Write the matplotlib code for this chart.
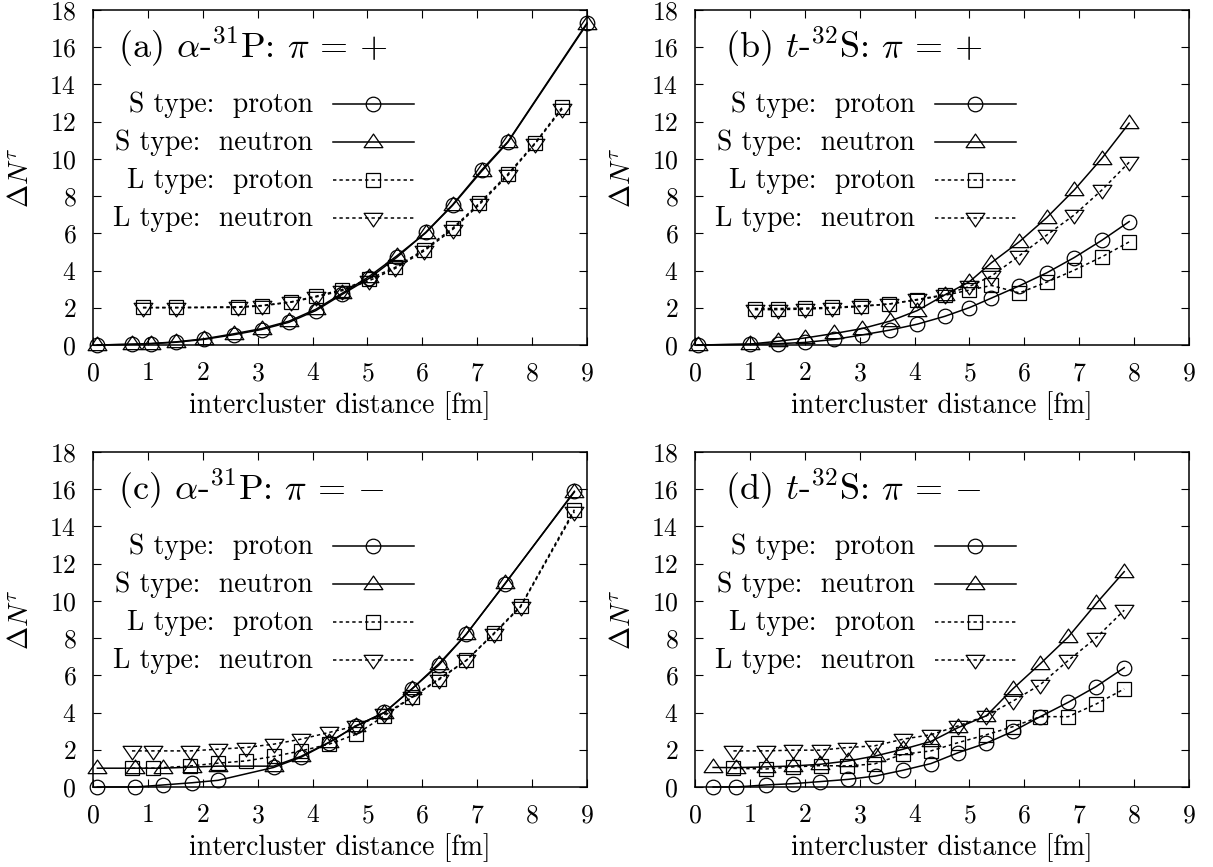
import matplotlib
matplotlib.use("Agg")
import matplotlib.pyplot as plt
from matplotlib.path import Path

plt.rcParams['font.family'] = 'serif'
plt.rcParams['font.serif'] = ['cmr10', 'DejaVu Serif']
plt.rcParams['mathtext.fontset'] = 'cm'
plt.rcParams['axes.formatter.use_mathtext'] = True
plt.rcParams['axes.unicode_minus'] = False

# ---- data ----
# (a) alpha-31P, pi=+
a_xs = [0.08, 0.71, 1.06, 1.52, 2.02, 2.56, 3.07, 3.57, 4.06, 4.54, 5.03, 5.54, 6.06, 6.55, 7.08, 7.56, 9.0]
a_Sp = [0.0, 0.04, 0.07, 0.15, 0.30, 0.55, 0.83, 1.22, 1.85, 2.72, 3.58, 4.72, 6.05, 7.53, 9.40, 10.93, 17.30]
a_Sn = [0.0, 0.04, 0.08, 0.17, 0.33, 0.60, 0.88, 1.28, 1.92, 2.78, 3.68, 4.80, 6.02, 7.50, 9.33, 10.90, 17.25]
a_xl = [0.91, 1.52, 2.64, 3.07, 3.61, 4.06, 4.54, 5.03, 5.51, 6.03, 6.55, 7.04, 7.56, 8.05, 8.55]
a_Lp = [2.02, 2.02, 2.05, 2.12, 2.32, 2.62, 2.98, 3.55, 4.18, 5.12, 6.27, 7.62, 9.19, 10.84, 12.78]
a_Ln = [2.0, 2.0, 2.02, 2.10, 2.30, 2.58, 2.92, 3.45, 4.12, 5.05, 6.20, 7.55, 9.12, 10.80, 12.70]

# (b) t-32S, pi=+
b_xs = [0.05, 1.0, 1.51, 2.01, 2.54, 3.04, 3.55, 4.05, 4.55, 5.0, 5.40, 5.91, 6.41, 6.91, 7.41, 7.91]
b_Sp = [0.0, 0.04, 0.07, 0.14, 0.30, 0.54, 0.80, 1.12, 1.54, 2.01, 2.52, 3.18, 3.88, 4.70, 5.62, 6.63]
b_Sn = [0.0, 0.05, 0.20, 0.38, 0.62, 0.88, 1.28, 1.85, 2.69, 3.40, 4.42, 5.55, 6.85, 8.33, 10.02, 11.92]
b_xl = [1.09, 1.51, 2.01, 2.50, 3.02, 3.53, 4.05, 4.55, 5.0, 5.40, 5.91, 6.41, 6.91, 7.41, 7.91]
b_Lp = [1.96, 1.96, 1.98, 2.02, 2.10, 2.20, 2.42, 2.67, 2.95, 3.20, 2.80, 3.38, 4.02, 4.73, 5.54]
b_Ln = [1.90, 1.90, 1.93, 1.98, 2.07, 2.20, 2.45, 2.70, 3.15, 3.70, 4.80, 5.91, 6.99, 8.32, 9.82]

# (c) alpha-31P, pi=-
c_xs = [0.08, 0.77, 1.28, 1.81, 2.28, 3.29, 3.79, 4.30, 4.80, 5.31, 5.81, 6.30, 6.80, 7.51, 8.77]
c_Sp = [0.0, 0.0, 0.11, 0.23, 0.36, 1.05, 1.60, 2.39, 3.29, 4.01, 5.27, 6.55, 8.21, 10.93, 15.89]
c_Sn = [1.01, 1.01, 1.01, 1.07, 1.12, 1.12, 1.65, 2.40, 3.30, 4.00, 5.27, 6.62, 8.20, 10.95, 15.85]
c_xl = [0.71, 1.10, 1.77, 2.27, 2.78, 3.29, 3.79, 4.30, 4.80, 5.31, 5.81, 6.30, 6.80, 7.31, 7.79, 8.77]
c_Lp = [1.01, 1.01, 1.13, 1.28, 1.40, 1.64, 1.94, 2.30, 2.84, 3.83, 4.82, 5.81, 6.80, 8.28, 9.72, 14.90]
c_Ln = [1.94, 1.94, 1.94, 2.03, 2.12, 2.30, 2.57, 2.93, 3.29, 3.92, 4.82, 5.76, 6.80, 8.24, 9.68, 14.80]

# (d) t-32S, pi=-
d_xs = [0.33, 0.75, 1.29, 1.79, 2.28, 2.79, 3.29, 3.79, 4.30, 4.80, 5.31, 5.79, 6.29, 6.80, 7.31, 7.82]
d_Sp = [0.0, 0.0, 0.11, 0.18, 0.29, 0.41, 0.59, 0.90, 1.26, 1.85, 2.36, 2.99, 3.78, 4.55, 5.40, 6.41]
d_Sn = [1.05, 1.04, 1.08, 1.13, 1.22, 1.40, 1.67, 2.03, 2.45, 3.20, 3.83, 5.27, 6.62, 8.06, 9.86, 11.57]
d_xl = [0.70, 1.30, 1.79, 2.29, 2.77, 3.27, 3.79, 4.30, 4.80, 5.31, 5.79, 6.29, 6.80, 7.31, 7.82]
d_Lp = [1.0, 0.97, 1.08, 1.15, 1.13, 1.24, 1.76, 1.94, 2.39, 2.81, 3.24, 3.78, 3.78, 4.46, 5.27]
d_Ln = [1.94, 1.94, 1.98, 1.98, 2.12, 2.21, 2.57, 2.81, 3.29, 3.83, 4.61, 5.50, 6.80, 8.02, 9.50]

titles = [r"(a) $\alpha$-$^{31}$P: $\pi$ = +", r"(b) $t$-$^{32}$S: $\pi$ = +",
          r"(c) $\alpha$-$^{31}$P: $\pi$ = $-$", r"(d) $t$-$^{32}$S: $\pi$ = $-$"]
labels = ["S type:  proton", "S type:  neutron", "L type:  proton", "L type:  neutron"]

# gnuplot-like wide triangles
tri_up = Path([(0, 0.9), (-1, -0.55), (1, -0.55), (0, 0.9)], closed=True)
tri_dn = Path([(0, -0.9), (-1, 0.55), (1, 0.55), (0, -0.9)], closed=True)

solid = '-'
dotted = (0, (2.2, 2.0))
styles = [
    dict(ls=solid, marker='o', ms=10.5),
    dict(ls=solid, marker=tri_up, ms=13.5),
    dict(ls=dotted, marker='s', ms=9.7),
    dict(ls=dotted, marker=tri_dn, ms=13.5),
]
common = dict(color='k', lw=1.1, mfc='none', mec='k', mew=0.9, clip_on=False)

fig = plt.figure(figsize=(12.13, 8.67), dpi=100)
W, H = 1213, 867
boxes = [(93, 345), (695, 345), (93, 787), (695, 787)]
panels = [
    (a_xs, a_Sp, a_Sn, a_xl, a_Lp, a_Ln),
    (b_xs, b_Sp, b_Sn, b_xl, b_Lp, b_Ln),
    (c_xs, c_Sp, c_Sn, c_xl, c_Lp, c_Ln),
    (d_xs, d_Sp, d_Sn, d_xl, d_Lp, d_Ln),
]
title_x = [0.05, 0.0615, 0.05, 0.0615]

for i, (data, (px, py)) in enumerate(zip(panels, boxes)):
    ax = fig.add_axes([px / W, (H - py) / H, 494 / W, 335 / H])
    xs, sp, sn, xl, lp, ln = data
    series = [(xs, sp), (xs, sn), (xl, lp), (xl, ln)]
    for (x, y), st in zip(series, styles):
        ax.plot(x, y, **st, **common)

    ax.set_xlim(0, 9)
    ax.set_ylim(0, 18)
    ax.set_xticks(range(0, 10))
    ax.set_yticks(range(0, 19, 2))
    ax.tick_params(direction='in', top=True, right=True, length=5.5, width=0.8,
                   labelsize=18.5, pad=12)
    for s in ax.spines.values():
        s.set_linewidth(1.1)

    ax.set_xlabel("intercluster distance [fm]", fontsize=20)
    ax.xaxis.set_label_coords(0.5, -0.203)
    ax.xaxis.label.set_va('baseline')
    ax.set_ylabel(r"$\Delta N^\tau$", fontsize=20)
    ax.yaxis.set_label_coords(-0.146, 0.5)
    ax.yaxis.label.set_va('center')

    ax.text(title_x[i], 0.857, titles[i], transform=ax.transAxes, fontsize=26,
            ha='left', va='baseline')

    # gnuplot-style key: text right aligned, sample to the right
    for k, (lab, st) in enumerate(zip(labels, styles)):
        yk = 0.7194 - k * 0.1131
        ax.text(0.446, yk - 0.025, lab, transform=ax.transAxes, fontsize=20,
                ha='right', va='baseline')
        ax.plot([0.485, 0.566, 0.649], [yk, yk, yk], transform=ax.transAxes,
                markevery=[1], **st, **common)

fig.savefig("out.png", dpi=100)
